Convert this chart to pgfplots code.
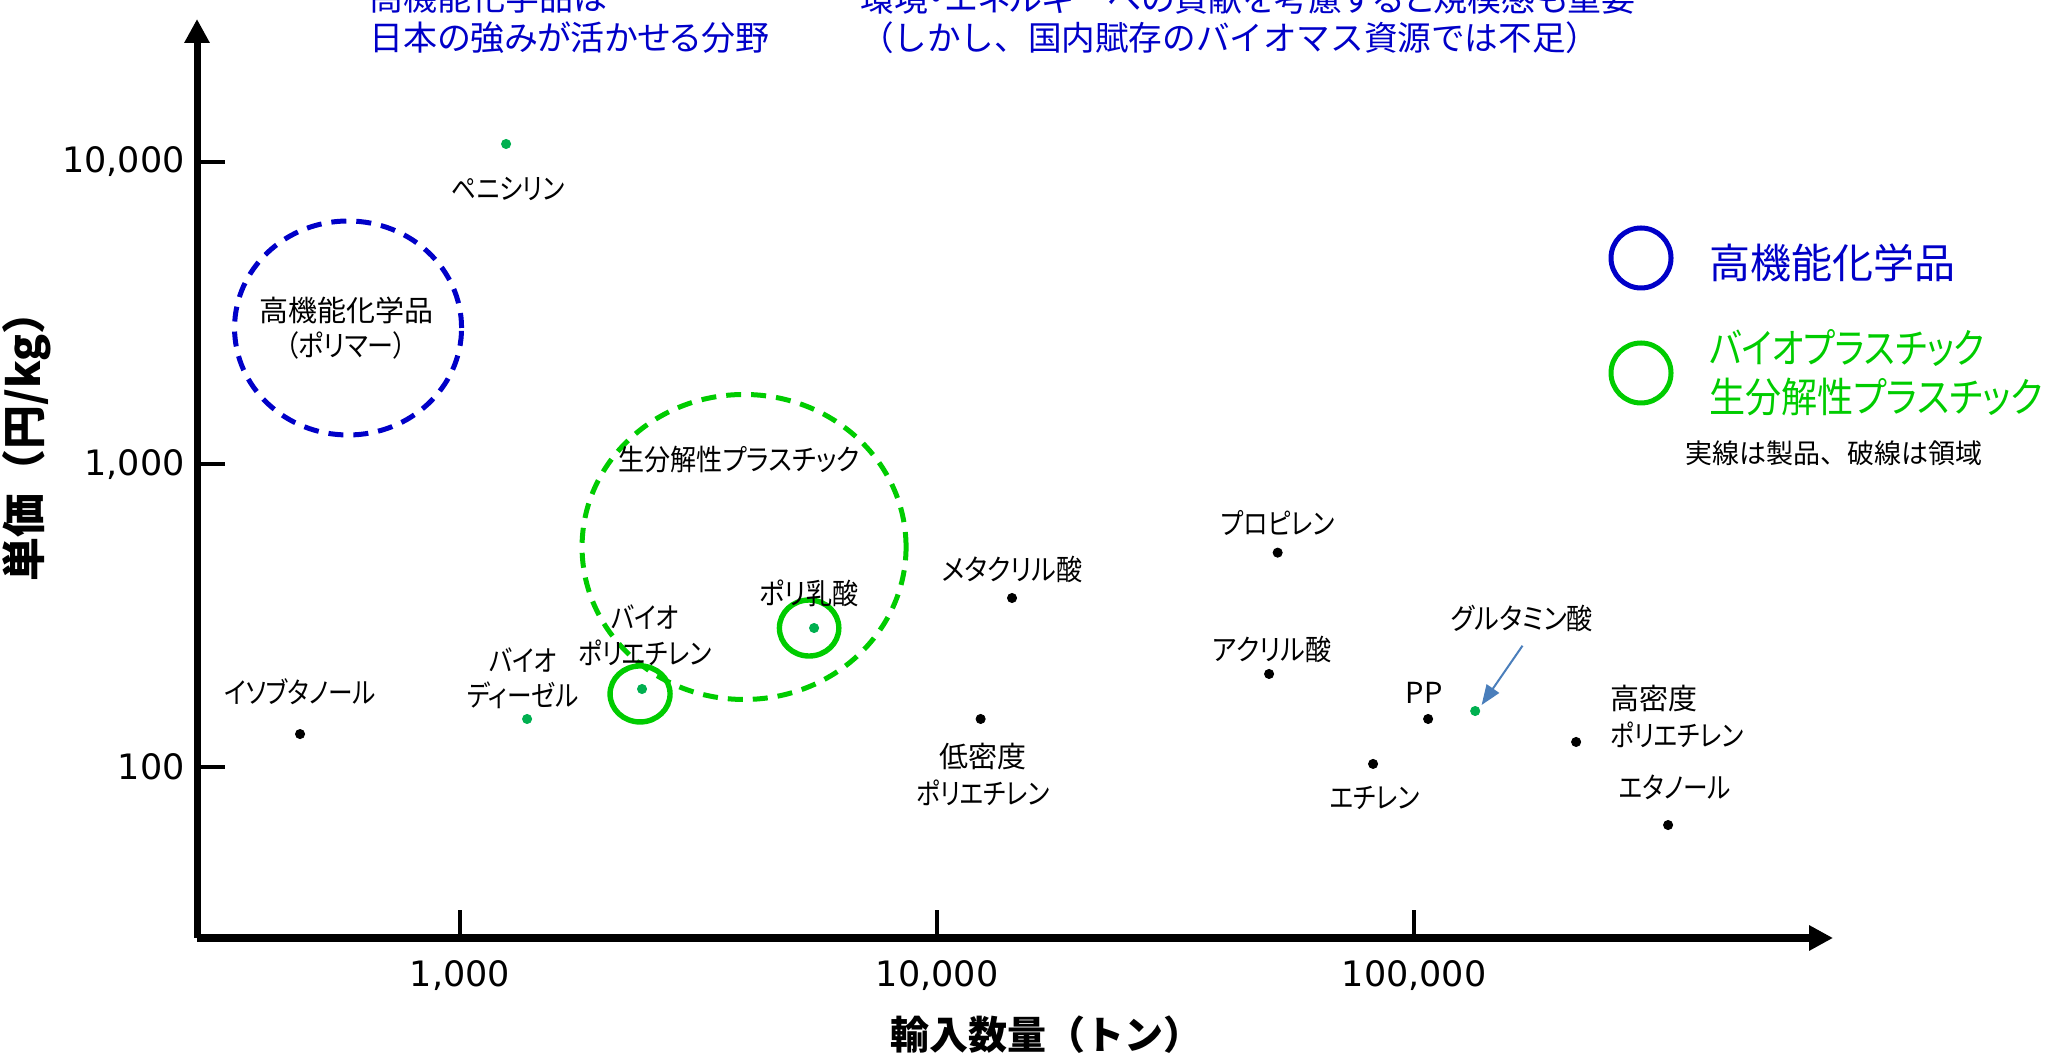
\documentclass[border=0pt]{standalone}
\usepackage{graphicx}
\usepackage{pgfplots}
\pgfplotsset{compat=1.18}
\usetikzlibrary{arrows.meta}
\usepackage{fontspec}
\setmainfont{Noto Sans CJK JP}[RawFeature=+palt]
\newfontfamily\jpfull{Noto Sans CJK JP}
\newfontfamily\numfont{DejaVu Sans}
\definecolor{myblue}{RGB}{0,0,200}
\definecolor{mygreen}{RGB}{0,204,0}
\definecolor{dotgreen}{RGB}{0,176,80}
\definecolor{arrowblue}{RGB}{74,126,187}
\newcommand\lab{\fontsize{14.5}{17}\selectfont}
\newcommand\kt[1]{\scalebox{0.85}[1]{#1}}
\newcommand\km[1]{\scalebox{0.9}[1]{#1}}
\begin{document}
\begin{tikzpicture}
\useasboundingbox (0,0) rectangle (1024.5pt,527pt);
\clip (0,0) rectangle (1024.5pt,527pt);
\begin{axis}[
  at={(98.5pt,58pt)}, anchor=south west,
  scale only axis, width=818pt, height=459.5pt,
  xmode=log, ymode=log,
  xmin=280.9, xmax=755600, ymin=27.17, ymax=29650,
  axis lines=left,
  x axis line style={line width=4.3pt, -{Triangle[length=12pt,width=12pt]}},
  y axis line style={line width=3.5pt, -{Triangle[length=12pt,width=12pt]}},
  xtick={1000,10000,100000}, xticklabels={{1,000},{10,000},{100,000}},
  ytick={100,1000,10000}, yticklabels={},
  xminorticks=false, yminorticks=false,
  tick align=inside, major tick length=14pt,
  tick style={line width=2pt, black},
  ticklabel style={font=\numfont\fontsize{17.5}{20}\selectfont, inner sep=0pt},
  xticklabel style={anchor=north, yshift=-11pt},
  clip=false,
]
\addplot[only marks, mark=*, mark size=2.3pt, black] coordinates {
  (461.9,128.3) (12340,143.9) (14360,361.4) (51760,510.4) (49660,202.7)
  (107000,143.9) (82040,102.2) (218600,120.8) (340800,64.2)};
\addplot[only marks, mark=*, mark size=2.3pt, dotgreen] coordinates {
  (1248.7,11450) (1382,143.9) (2407,180.8) (5523,287.6) (134300,152.9)};
\draw[myblue, line width=2.5pt, dash pattern=on 7.5pt off 5pt] (axis cs:582.4,2822) ellipse [x radius=56.75pt, y radius=53.5pt];
\draw[mygreen, line width=2.5pt, dash pattern=on 7.5pt off 5pt] (axis cs:3939,532.9) ellipse [x radius=81pt, y radius=76.25pt];
\draw[mygreen, line width=2.7pt] (axis cs:5392,287.6) ellipse [x radius=14.85pt, y radius=14pt];
\draw[mygreen, line width=2.7pt] (axis cs:2384,174.1) ellipse [x radius=15pt, y radius=14pt];
\end{axis}
\begin{scope}[x=0.5pt, y=-0.5pt, yshift=527pt]
% y tick labels
\node[anchor=east, inner sep=0pt, font=\numfont\fontsize{17.5}{20}\selectfont] at (185,161.8) {10,000};
\node[anchor=east, inner sep=0pt, font=\numfont\fontsize{17.5}{20}\selectfont] at (185,464.3) {1,000};
\node[anchor=east, inner sep=0pt, font=\numfont\fontsize{17.5}{20}\selectfont] at (185,766.8) {100};
% top texts
\node[anchor=west, myblue, font=\fontsize{17}{20}\selectfont] at (362.5,-2) {高機能化学品は};
\node[anchor=west, myblue, font=\fontsize{17}{20}\selectfont] at (362.5,38) {日本の強みが活かせる分野};
\node[anchor=west, myblue, font=\fontsize{17}{20}\selectfont] at (853,-2) {環境・エネルギーへの貢献を考慮すると規模感も重要};
\node[anchor=west, myblue, font=\jpfull\fontsize{16.8}{20}\selectfont] at (853,38) {（しかし、国内賦存のバイオマス資源では不足）};
% axis titles
\node[rotate=90, font=\jpfull\bfseries\fontsize{22}{26}\selectfont] at (27,436) {単価（円/kg）};
\node[font=\jpfull\bfseries\fontsize{19.5}{24}\selectfont] at (1046,1035) {輸入数量（トン）};
% legend
\draw[myblue, line width=2.5pt] (1641,258) circle [radius=15pt];
\draw[mygreen, line width=2.5pt] (1641,373) circle [radius=15pt];
\node[anchor=west, myblue, font=\fontsize{20.5}{24}\selectfont] at (1702,263) {高機能化学品};
\node[anchor=west, mygreen, font=\fontsize{20.5}{24}\selectfont] at (1702,348) {\scalebox{0.84}[1]{バイオプラスチック}};
\node[anchor=west, mygreen, font=\fontsize{20.5}{24}\selectfont] at (1702,397) {\scalebox{0.88}[1]{生分解性プラスチック}};
\node[anchor=west, font=\jpfull\fontsize{13.5}{16}\selectfont] at (1678,453) {実線は製品、破線は領域};
% region texts
\node[font=\lab] at (346,310) {高機能化学品};
\node[font=\lab] at (346,345) {\km{（ポリマー）}};
\node[font=\lab] at (739,460) {\km{生分解性プラスチック}};
% point labels
\node[font=\lab] at (508,189) {\kt{ペニシリン}};
\node[font=\lab] at (300,692) {\kt{イソブタノール}};
\node[font=\lab] at (523,660) {\kt{バイオ}};
\node[font=\lab] at (523,695) {\kt{ディーゼル}};
\node[font=\lab] at (645,617) {\kt{バイオ}};
\node[font=\lab] at (645,653) {\kt{ポリエチレン}};
\node[font=\lab] at (809,593) {\km{ポリ乳酸}};
\node[font=\lab] at (1012,569) {\km{メタクリル酸}};
\node[font=\lab] at (983,757) {低密度};
\node[font=\lab] at (983,793) {\kt{ポリエチレン}};
\node[font=\lab] at (1278,523) {\kt{プロピレン}};
\node[font=\lab] at (1272,649) {\km{アクリル酸}};
\node[font=\lab] at (1424,693) {PP};
\node[font=\lab] at (1522,618) {\km{グルタミン酸}};
\node[font=\lab] at (1375,798) {\kt{エチレン}};
\node[anchor=west, font=\lab] at (1603,698) {高密度};
\node[anchor=west, font=\lab] at (1603,735) {\kt{ポリエチレン}};
\node[font=\lab] at (1675,787) {\kt{エタノール}};
\draw[arrowblue, line width=1pt, -{Triangle[length=10pt,width=7.5pt]}] (1522.5,645.7) -- (1481.6,705);
\end{scope}
\end{tikzpicture}
\end{document}
